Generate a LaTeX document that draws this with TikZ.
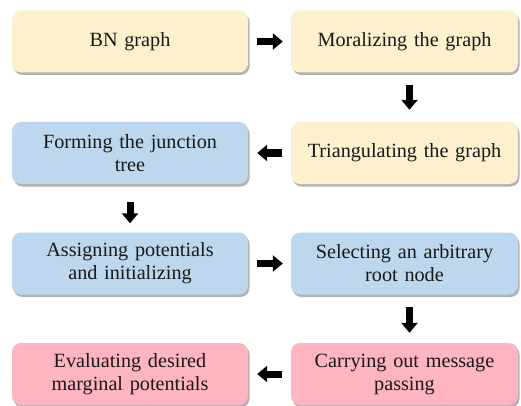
\documentclass[tikz,border=0pt]{standalone}
\usepackage{fontspec}
\setmainfont{Liberation Serif}
\usetikzlibrary{shadows,arrows.meta}
\definecolor{boxyellow}{HTML}{FDF0CD}
\definecolor{boxblue}{HTML}{BDD7EE}
\definecolor{boxpink}{HTML}{FFB5C0}
\tikzset{
  stepbox/.style={rounded corners=9pt, minimum height=62pt, align=center,
    font=\fontsize{20.2}{23}\selectfont, inner sep=2pt, text=black!90,
    drop shadow={shadow xshift=1.5pt, shadow yshift=-2.5pt, fill=black!55, opacity=0.55}},
  leftbox/.style={stepbox, minimum width=236pt, text width=228pt},
  rightbox/.style={stepbox, minimum width=227pt, text width=221pt},
  yel/.style={fill=boxyellow},
  blu/.style={fill=boxblue},
  pnk/.style={fill=boxpink},
  bigarrow/.style={line width=7pt, -{Triangle[width=16pt,length=10pt]}},
}
\begin{document}
\begin{tikzpicture}[x=1pt,y=1pt]
\useasboundingbox[fill=white] (0,0) rectangle (521,-406);
\node[leftbox,yel]  (bn)   at (130,-41.5) {BN graph};
\node[rightbox,yel] (mor)  at (404.5,-41.5) {Moralizing the graph};
\node[rightbox,yel] (tri)  at (404.5,-153) {Triangulating the graph};
\node[leftbox,blu]  (jt)   at (130,-153) {Forming the junction\\tree};
\node[leftbox,blu]  (asg)  at (130,-263.5) {Assigning potentials\\and initializing};
\node[rightbox,blu] (root) at (404.5,-263.5) {Selecting an arbitrary\\root node};
\node[rightbox,pnk] (msg)  at (404.5,-374) {Carrying out message\\passing};
\node[leftbox,pnk]  (eval) at (130,-374) {Evaluating desired\\marginal potentials};

\draw[bigarrow, shorten <=9pt, shorten >=8pt] (bn) -- (mor);
\draw[bigarrow, shorten <=12pt, shorten >=12pt] ([xshift=5pt]mor.south) -- ([xshift=5pt]tri.north);
\draw[bigarrow, shorten <=9pt, shorten >=9pt] (tri) -- (jt);
\draw[bigarrow, shorten <=18pt, shorten >=9pt] (jt.south) -- (asg.north);
\draw[bigarrow, shorten <=9pt, shorten >=8pt] (asg) -- (root);
\draw[bigarrow, shorten <=12pt, shorten >=10pt] ([xshift=5pt]root.south) -- ([xshift=5pt]msg.north);
\draw[bigarrow, shorten <=9pt, shorten >=9pt] (msg) -- (eval);
\end{tikzpicture}
\end{document}
